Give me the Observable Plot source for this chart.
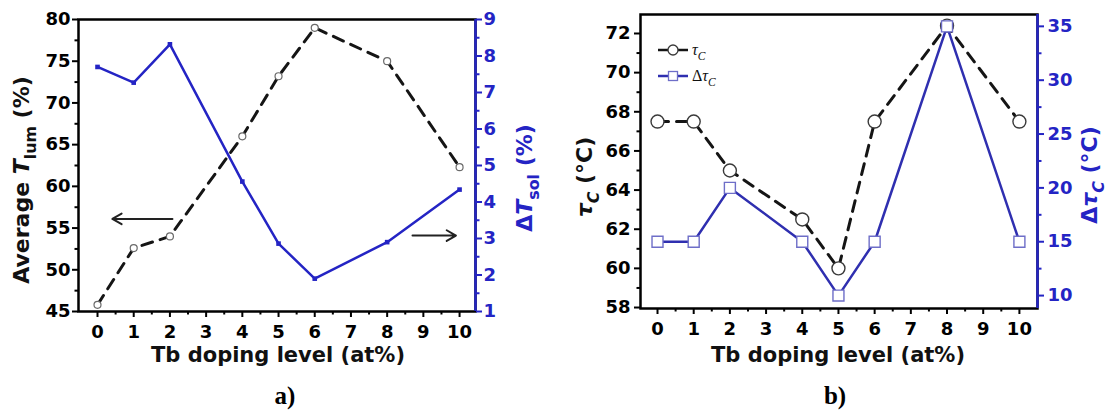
<!DOCTYPE html>
<html><head><meta charset="utf-8">
<script src="https://cdn.jsdelivr.net/npm/d3@7"></script>
<script src="https://cdn.jsdelivr.net/npm/@observablehq/plot@0.6"></script>
<style>
body{margin:0;background:#fff;}
#wrap{position:relative;width:1110px;height:416px;overflow:hidden;background:#fff;}
.layer{position:absolute;top:0;}
.tag{position:absolute;top:382px;width:60px;text-align:center;font-family:"Liberation Serif","Times New Roman",serif;font-weight:bold;font-size:25px;color:#000;}
</style></head><body>
<div id="wrap"></div>
<script>
// ---- data ----
const doping = [0, 1, 2, 4, 5, 6, 8, 10];
const xTickLabels = [0, 1, 2, 3, 4, 5, 6, 7, 8, 9, 10];
const tLum = [45.8, 52.6, 54.0, 66.0, 73.2, 79.0, 75.0, 62.3];
const dTsol = [7.7, 7.27, 8.32, 4.56, 2.86, 1.9, 2.9, 4.34];
const tauC = [67.5, 67.5, 65.0, 62.5, 60.0, 67.5, 72.4, 67.5];
const dTauC = [15, 15, 20, 15, 10, 15, 35, 15];
const tLumTicks = [45, 50, 55, 60, 65, 70, 75, 80];
const dTsolTicks = [1, 2, 3, 4, 5, 6, 7, 8, 9];
const tauTicks = [58, 60, 62, 64, 66, 68, 70, 72];
const dTauTicks = [10, 15, 20, 25, 30, 35];
const arrowLeft = [{x1: 2.07, x2: 0.41, y: 56.1}];
const arrowRight = [{x1: 8.7, x2: 9.9, y: 3.08}];

const tableA = doping.map((x, i) => ({x, tLum: tLum[i], dTsol: dTsol[i]}));
const tableB = doping.map((x, i) => ({x, tau: tauC[i], dTau: dTauC[i]}));

const BLUE = "#2424c4";
const BLUE_B = "#2f2fb0";
const SQ_B = "#6e6ec8";
const xMinor = d3.range(0.5, 10, 1);

const baseStyle = {fontFamily: "DejaVu Sans, sans-serif", fontWeight: "bold", fontSize: "18px", background: "transparent", overflow: "visible"};
const wrap = document.getElementById("wrap");

function place(svg, left) {
  svg.classList.add("layer");
  svg.style.left = left + "px";
  wrap.appendChild(svg);
  return d3.select(svg);
}

function title(sel, x, y, rot, parts, color, size) {
  const t = sel.append("text")
    .attr("transform", `translate(${x},${y}) rotate(${rot})`)
    .attr("text-anchor", "middle")
    .attr("fill", color)
    .style("font-family", "DejaVu Sans, sans-serif")
    .style("font-weight", "bold")
    .style("font-size", size + "px");
  let shift = 0;
  for (const p of parts) {
    const s = t.append("tspan").text(p.t);
    if (p.italic) s.style("font-style", "italic");
    const want = p.sub ? size * 0.3 : 0;
    if (want !== shift) { s.attr("dy", want - shift); shift = want; }
    if (p.sub) s.style("font-size", (size * 0.72) + "px");
  }
  return t;
}

// ================= Panel a =================
const geomA = {width: 555, height: 372, marginLeft: 78, marginRight: 80, marginTop: 19, marginBottom: 61};
const xDomA = [-0.525, 10.44];

const a1 = Plot.plot({
  ...geomA, style: baseStyle,
  x: {domain: xDomA}, y: {domain: [45, 80]},
  marks: [
    Plot.frame({stroke: "#000", strokeWidth: 2.5}),
    Plot.axisY(tLumTicks, {tickSize: 6, tickPadding: 2, strokeWidth: 2, label: null}),
    Plot.axisY(d3.range(47.5, 80, 5), {tickSize: 3.5, strokeWidth: 2, tickFormat: () => "", label: null}),
    Plot.axisX(xTickLabels, {tickSize: 6, tickPadding: 8, strokeWidth: 2, label: null}),
    Plot.axisX(xMinor, {tickSize: 3.5, strokeWidth: 2, tickFormat: () => "", label: null}),
    Plot.line(tableA, {x: "x", y: "tLum", stroke: "#151515", strokeWidth: 3, strokeDasharray: "11,8"}),
    Plot.dot(tableA, {x: "x", y: "tLum", r: 3.5, stroke: "#6a6a6a", fill: "white", strokeWidth: 1.2}),
    Plot.arrow(arrowLeft, {x1: "x1", x2: "x2", y1: "y", y2: "y", stroke: "#222", strokeWidth: 2, headLength: 8})
  ]
});
const sa1 = place(a1, 0);
title(sa1, 29, 180, -90, [{t: "Average "}, {t: "T", italic: true}, {t: "lum", sub: true}, {t: " (%)"}], "#111", 22);
title(sa1, 278, 362, 0, [{t: "Tb doping level (at%)"}], "#111", 21);

const a2 = Plot.plot({
  ...geomA, style: baseStyle,
  x: {domain: xDomA, axis: null}, y: {domain: [1, 9]},
  marks: [
    Plot.ruleX([xDomA[1]], {stroke: BLUE, strokeWidth: 2.5}),
    Plot.axisY(dTsolTicks, {anchor: "right", tickSize: 6, tickPadding: 2, strokeWidth: 2, color: BLUE, label: null}),
    Plot.axisY(d3.range(1.5, 9, 1), {anchor: "right", tickSize: 3.5, strokeWidth: 2, color: BLUE, tickFormat: () => "", label: null}),
    Plot.line(tableA, {x: "x", y: "dTsol", stroke: BLUE, strokeWidth: 2.5}),
    Plot.dot(tableA, {x: "x", y: "dTsol", symbol: "square", fill: BLUE, r: 2.6}),
    Plot.arrow(arrowRight, {x1: "x1", x2: "x2", y1: "y", y2: "y", stroke: "#222", strokeWidth: 2, headLength: 8})
  ]
});
const sa2 = place(a2, 0);
title(sa2, 532, 178, -90, [{t: "Δ"}, {t: "T", italic: true}, {t: "sol", sub: true}, {t: " (%)"}], BLUE, 22);

// ================= Panel b =================
const geomB = {width: 555, height: 372, marginLeft: 85, marginRight: 73, marginTop: 14, marginBottom: 64};
const xDomB = [-0.47, 10.5];

const b1 = Plot.plot({
  ...geomB, style: baseStyle,
  x: {domain: xDomB}, y: {domain: [57.95, 72.97]},
  marks: [
    Plot.frame({stroke: "#000", strokeWidth: 2.5}),
    Plot.axisY(tauTicks, {tickSize: 6, tickPadding: 4, strokeWidth: 2, label: null}),
    Plot.axisY(d3.range(59, 73, 2), {tickSize: 3.5, strokeWidth: 2, tickFormat: () => "", label: null}),
    Plot.axisX(xTickLabels, {tickSize: 6, tickPadding: 8, strokeWidth: 2, label: null}),
    Plot.axisX(xMinor, {tickSize: 3.5, strokeWidth: 2, tickFormat: () => "", label: null}),
    Plot.line(tableB, {x: "x", y: "tau", stroke: "#151515", strokeWidth: 3, strokeDasharray: "11,8"}),
    Plot.dot(tableB, {x: "x", y: "tau", r: 6.5, stroke: "#3a3a3a", fill: "white", strokeWidth: 1.4})
  ]
});
const sb1 = place(b1, 555);
title(sb1, 37, 177, -90, [{t: "τ", italic: true}, {t: "C", italic: true, sub: true}, {t: " (°C)"}], "#111", 22);
title(sb1, 283, 362, 0, [{t: "Tb doping level (at%)"}], "#111", 21);

const b2 = Plot.plot({
  ...geomB, style: baseStyle,
  x: {domain: xDomB, axis: null}, y: {domain: [8.8, 36.1]},
  marks: [
    Plot.ruleX([xDomB[1]], {stroke: BLUE, strokeWidth: 2.5}),
    Plot.axisY(dTauTicks, {anchor: "right", tickSize: 6, tickPadding: 4, strokeWidth: 2, color: BLUE, label: null}),
    Plot.axisY(d3.range(12.5, 36, 5), {anchor: "right", tickSize: 3.5, strokeWidth: 2, color: BLUE, tickFormat: () => "", label: null}),
    Plot.line(tableB, {x: "x", y: "dTau", stroke: BLUE_B, strokeWidth: 2.5}),
    Plot.dot(tableB, {x: "x", y: "dTau", symbol: "square", r: 6.2, stroke: SQ_B, fill: "white", strokeWidth: 1.4})
  ]
});
const sb2 = place(b2, 555);
title(sb2, 542, 175, -90, [{t: "Δ"}, {t: "τ", italic: true}, {t: "C", italic: true, sub: true}, {t: " (°C)"}], BLUE, 22);

// legend (panel b)
const leg = sb2.append("g");
const legendItems = [
  {y: 50, line: "#151515", mark: "circle", markStroke: "#3a3a3a", label: [{t: "τ", italic: true}, {t: "C", italic: true, sub: true}], color: "#111"},
  {y: 76, line: BLUE_B, mark: "square", markStroke: SQ_B, label: [{t: "Δ"}, {t: "τ", italic: true}, {t: "C", italic: true, sub: true}], color: "#111"}
];
for (const it of legendItems) {
  leg.append("line").attr("x1", 103).attr("x2", 133).attr("y1", it.y).attr("y2", it.y)
    .attr("stroke", it.line).attr("stroke-width", 2.5);
  if (it.mark === "circle") {
    leg.append("circle").attr("cx", 118).attr("cy", it.y).attr("r", 5)
      .attr("fill", "white").attr("stroke", it.markStroke).attr("stroke-width", 1.3);
  } else {
    leg.append("rect").attr("x", 113.5).attr("y", it.y - 4.5).attr("width", 9).attr("height", 9)
      .attr("fill", "white").attr("stroke", it.markStroke).attr("stroke-width", 1.3);
  }
  const t = title(leg, 137, it.y + 5, 0, it.label, it.color, 16);
  t.attr("text-anchor", "start").style("font-weight", "normal").style("font-family", "Liberation Serif, serif");
}

// panel tags
for (const [txt, cx] of [["a)", 285], ["b)", 835]]) {
  const d = document.createElement("div");
  d.className = "tag";
  d.textContent = txt;
  d.style.left = (cx - 30) + "px";
  wrap.appendChild(d);
}
</script>
</body></html>
